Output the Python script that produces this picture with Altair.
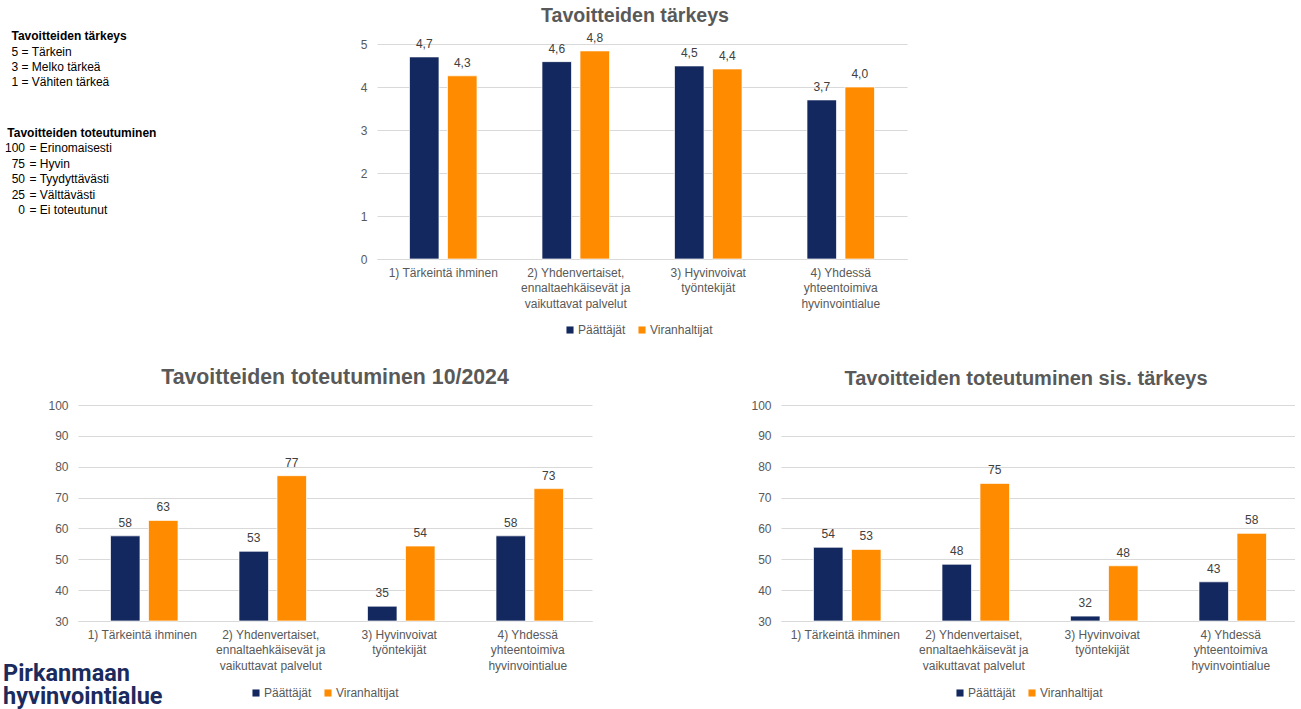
import altair as alt
import pandas as pd

FONT = "Liberation Sans"
NAVY = "#13285e"
ORANGE = "#ff8c00"
GRAY = "#595959"
LABEL_GRAY = "#404040"
GRID = "#d9d9d9"

categories = [
    "1) Tärkeintä ihminen",
    "2) Yhdenvertaiset,\nennaltaehkäisevät ja\nvaikuttavat palvelut",
    "3) Hyvinvoivat\ntyöntekijät",
    "4) Yhdessä\nyhteentoimiva\nhyvinvointialue",
]
groups = ["Päättäjät", "Viranhaltijat"]

# Tavoitteiden tärkeys (1-5)
importance_paattajat = [4.70, 4.59, 4.49, 3.70]
importance_viranhaltijat = [4.26, 4.84, 4.42, 4.00]

# Tavoitteiden toteutuminen 10/2024 (0-100)
realization_paattajat = [57.6, 52.6, 34.8, 57.6]
realization_viranhaltijat = [62.6, 77.1, 54.3, 72.9]

# Tavoitteiden toteutuminen sis. tärkeys (0-100)
weighted_paattajat = [53.9, 48.4, 31.6, 42.7]
weighted_viranhaltijat = [53.2, 74.6, 47.9, 58.4]

importance_ticks = [0, 1, 2, 3, 4, 5]
realization_ticks = [30, 40, 50, 60, 70, 80, 90, 100]

titles = [
    "Tavoitteiden tärkeys",
    "Tavoitteiden toteutuminen 10/2024",
    "Tavoitteiden toteutuminen sis. tärkeys",
]

key1_heading = "Tavoitteiden tärkeys"
key1_lines = ["5 = Tärkein", "3 = Melko tärkeä", "1 = Vähiten tärkeä"]
key2_heading = "Tavoitteiden toteutuminen"
key2_numbers = ["100", "75", "50", "25", "0"]
key2_texts = ["= Erinomaisesti", "= Hyvin", "= Tyydyttävästi", "= Välttävästi", "= Ei toteutunut"]
logo_lines = ["Pirkanmaan", "hyvinvointialue"]

dummy = pd.DataFrame({"k": [0]})


def make_df(pvals, vvals, decimals):
    rows = []
    for c, p, v in zip(categories, pvals, vvals):
        for g, val in ((groups[0], p), (groups[1], v)):
            if decimals:
                txt = f"{val:.1f}".replace(".", ",")
            else:
                txt = f"{val:.0f}"
            rows.append({"kategoria": c, "ryhma": g, "arvo": val, "teksti": txt})
    return pd.DataFrame(rows)


def bar_chart(df, ymin, ymax, ticks, width, height, title, title_x, title_y, title_size,
              leg_x, leg_y, inner, outer):
    base = alt.Chart(df).encode(
        x=alt.X(
            "kategoria:N",
            sort=categories,
            scale=alt.Scale(paddingInner=0, paddingOuter=0),
            axis=alt.Axis(
                title=None,
                labelAngle=0,
                labelExpr="split(datum.label, '\\n')",
                labelFont=FONT,
                labelFontSize=12,
                labelColor=GRAY,
                labelPadding=8,
                labelLineHeight=15.5,
                labelLimit=300,
                ticks=False,
                domainColor=GRID,
                grid=False,
            ),
        ),
        xOffset=alt.XOffset(
            "ryhma:N", sort=groups,
            scale=alt.Scale(paddingInner=inner, paddingOuter=outer),
        ),
    )
    yscale = alt.Scale(domain=[ymin, ymax], zero=False, nice=False)
    bars = base.mark_bar(stroke="white", strokeWidth=0.7).encode(
        y=alt.Y(
            "arvo:Q",
            scale=yscale,
            axis=alt.Axis(
                title=None,
                values=ticks,
                tickCount=len(ticks),
                format="d",
                grid=True,
                gridColor=GRID,
                domain=False,
                ticks=False,
                labelFont=FONT,
                labelFontSize=12,
                labelColor=GRAY,
                labelPadding=10,
                labelOverlap=False,
            ),
        ),
        y2=alt.datum(ymin),
        color=alt.Color(
            "ryhma:N",
            sort=groups,
            scale=alt.Scale(domain=groups, range=[NAVY, ORANGE]),
            legend=alt.Legend(
                orient="none",
                legendX=leg_x,
                legendY=leg_y,
                direction="horizontal",
                title=None,
                symbolType="square",
                symbolSize=50,
                symbolStrokeWidth=0,
                labelFont=FONT,
                labelFontSize=12,
                labelColor=GRAY,
                labelOffset=2,
                columnPadding=10,
                padding=0,
            ),
        ),
    )
    labels = base.mark_text(
        baseline="bottom", dy=-6, font=FONT, fontSize=12, color=LABEL_GRAY
    ).encode(
        y=alt.Y("arvo:Q", scale=yscale),
        text="teksti:N",
    )
    ttl = alt.Chart(dummy).mark_text(
        font=FONT, fontSize=title_size, fontWeight="bold", color=GRAY,
        baseline="middle", align="center"
    ).encode(x=alt.value(title_x), y=alt.value(title_y), text=alt.value(title))
    return alt.layer(bars, labels, ttl).properties(width=width, height=height)


top = bar_chart(make_df(importance_paattajat, importance_viranhaltijat, True),
                0, 5, importance_ticks, 530, 215, titles[0], 258, -28, 19.6, 187, 280,
                0.224, 0.855)
bl = bar_chart(make_df(realization_paattajat, realization_viranhaltijat, False),
               30, 100, realization_ticks, 514, 216, titles[1], 257, -27, 21.3, 172, 282,
               0.232, 0.852)
br = bar_chart(make_df(weighted_paattajat, weighted_viranhaltijat, False),
               30, 100, realization_ticks, 514, 216, titles[2], 245, -26, 20, 173, 282,
               0.232, 0.852)

# Left-side key text and logo (spacer panel, origin at (78, 44))
OX, OY = 78, 44
layers = []
layers.append(
    alt.Chart(dummy).mark_rect(opacity=0).encode(
        x=alt.value(-OX), x2=alt.value(-OX + 1), y=alt.value(-OY), y2=alt.value(-OY + 1)
    )
)


def txt(s, x, y, bold=False, align="left", size=12, color="#000000", font=FONT,
        baseline="middle", line_height=None):
    kw = {}
    if line_height is not None:
        kw["lineHeight"] = line_height
    return alt.Chart(dummy).mark_text(
        font=font, fontSize=size, fontWeight="bold" if bold else "normal",
        color=color, align=align, baseline=baseline, **kw,
    ).encode(x=alt.value(x - OX), y=alt.value(y - OY), text=alt.value(s))


layers.append(txt(key1_heading, 11.5, 35.5, bold=True))
for i, s in enumerate(key1_lines):
    layers.append(txt(s, 11.5, 51.5 + i * 15.3))
layers.append(txt(key2_heading, 7.3, 133, bold=True))
for i, (n, s) in enumerate(zip(key2_numbers, key2_texts)):
    layers.append(txt(n, 25, 148 + i * 15.5, align="right"))
    layers.append(txt(s, 29.5, 148 + i * 15.5))
# logo as one two-line text element
layers.append(txt(logo_lines, 3, 681, bold=True, size=23.5, color="#1b2b5e", font="Roboto",
                  baseline="alphabetic", line_height=23))

spacer = alt.layer(*layers).properties(width=110, height=215)

top_row = alt.hconcat(spacer, top, spacing=189, bounds="flush").resolve_scale(color="independent")
bottom_row = alt.hconcat(bl, br, spacing=189, bounds="flush").resolve_scale(color="independent")

chart = alt.vconcat(
    top_row, bottom_row, spacing=361, bounds="flush"
).resolve_scale(color="independent").properties(
    padding=0
).configure(font=FONT).configure_view(strokeWidth=0, stroke="transparent")

chart.save("out.html", embed_options={"renderer": "svg", "actions": False})
